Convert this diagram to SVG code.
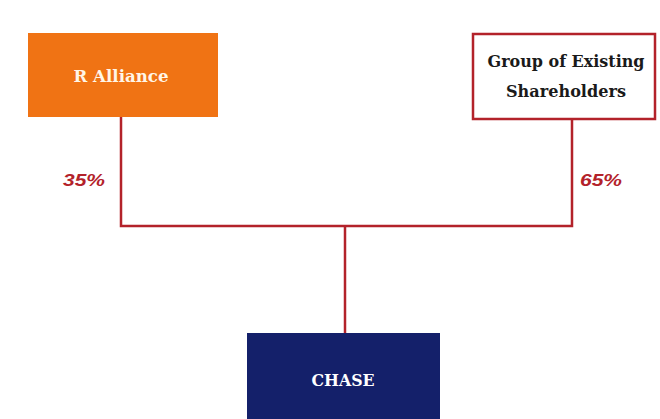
<svg xmlns="http://www.w3.org/2000/svg" width="660" height="419" viewBox="0 0 660 419">
<style>
.lbl{font-family:"DejaVu Serif","Liberation Serif",serif;font-weight:bold;font-size:16px;text-anchor:middle}
.pct{font-family:"Liberation Sans",Arial,sans-serif;font-weight:bold;font-style:italic;font-size:17px;fill:#b3222a;text-anchor:middle}
.conn{fill:none;stroke:#b3222a;stroke-width:2.5}
</style>
<rect width="660" height="419" fill="#ffffff"/>
<g id="connectors">
<polyline class="conn" points="121,117 121,226 572,226 572,119"/>
<line class="conn" x1="345" y1="226" x2="345" y2="333"/>
</g>
<g id="r-alliance">
<rect x="28" y="33" width="190" height="84" fill="#f07314"/>
<text class="lbl" x="121" y="82" fill="#fff6e8" textLength="95" lengthAdjust="spacingAndGlyphs">R Alliance</text>
</g>
<g id="existing-shareholders">
<rect x="473" y="34" width="182" height="85" fill="#ffffff" stroke="#b3222a" stroke-width="2.5"/>
<text class="lbl" x="566" y="67" fill="#1a1a1a" textLength="157" lengthAdjust="spacingAndGlyphs">Group of Existing</text>
<text class="lbl" x="566" y="97" fill="#1a1a1a" textLength="120" lengthAdjust="spacingAndGlyphs">Shareholders</text>
</g>
<g id="chase">
<rect x="247" y="333" width="193" height="86" fill="#14206a"/>
<text class="lbl" x="343" y="386" fill="#ffffff" textLength="63" lengthAdjust="spacingAndGlyphs">CHASE</text>
</g>
<text class="pct" x="84" y="186" textLength="42" lengthAdjust="spacingAndGlyphs">35%</text>
<text class="pct" x="601" y="186" textLength="42" lengthAdjust="spacingAndGlyphs">65%</text>
</svg>
